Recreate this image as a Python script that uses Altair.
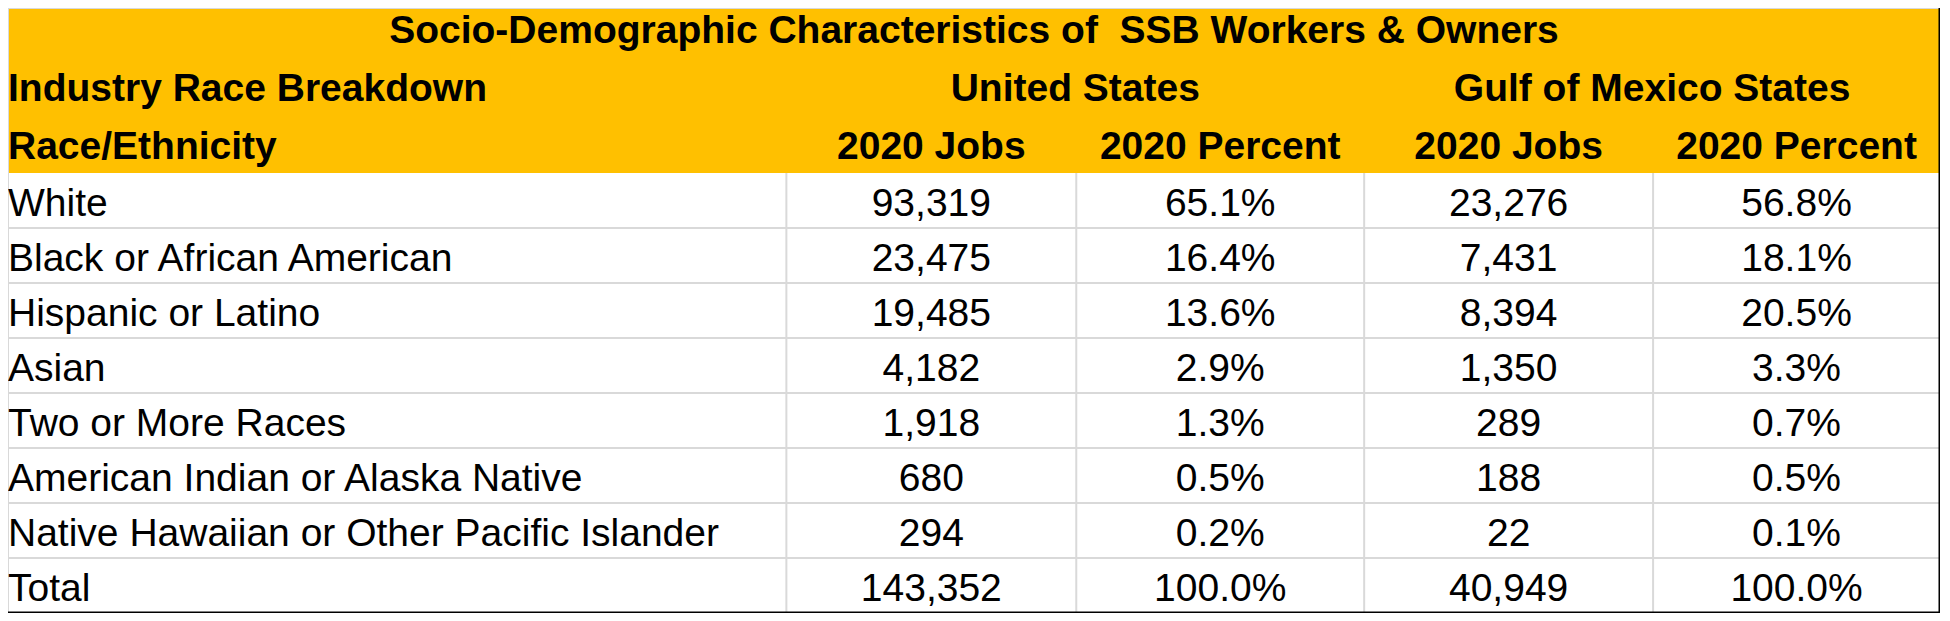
import altair as alt
import pandas as pd

# ---------------- data ----------------
title_text = "Socio-Demographic Characteristics of\u00a0 SSB Workers & Owners"
section_label = "Industry Race Breakdown"
row_header = "Race/Ethnicity"
regions = ["United States", "Gulf of Mexico States"]
measures = ["2020 Jobs", "2020 Percent"]

races = [
    "White",
    "Black or African American",
    "Hispanic or Latino",
    "Asian",
    "Two or More Races",
    "American Indian or Alaska Native",
    "Native Hawaiian or Other Pacific Islander",
    "Total",
]
us_jobs = [93319, 23475, 19485, 4182, 1918, 680, 294, 143352]
us_pct = [65.1, 16.4, 13.6, 2.9, 1.3, 0.5, 0.2, 100.0]
gulf_jobs = [23276, 7431, 8394, 1350, 289, 188, 22, 40949]
gulf_pct = [56.8, 18.1, 20.5, 3.3, 0.7, 0.5, 0.1, 100.0]

# ---------------- layout (table units) ----------------
TABLE_W = 1946
col_edges = [0, 784, 1076, 1366, 1657, 1946]
col_centers = [(col_edges[i] + col_edges[i + 1]) / 2 for i in range(1, 5)]
LEFT_PAD = 0
N_HEAD = 3
N_ROWS = N_HEAD + len(races)
HEAD_Y = [0.36, 1.42, 2.48]

FONT = "Liberation Sans"
FS = 39
YELLOW = "#FFC000"
GRID = "#D9D9D9"

X = alt.X("x:Q", scale=alt.Scale(domain=[0, TABLE_W], nice=False, zero=False), axis=None)
Y = alt.Y("y:Q", scale=alt.Scale(domain=[0, N_ROWS], nice=False, zero=False, reverse=True), axis=None)

# header background
header_bg = pd.DataFrame([{"x": 0, "x2": TABLE_W, "y": 0, "y2": N_HEAD}])
bg = alt.Chart(header_bg).mark_rect(color=YELLOW, strokeWidth=0).encode(
    x=X, x2="x2:Q", y=Y, y2="y2:Q"
)

# grid lines
grid_rows = []
for r in range(N_HEAD + 1, N_ROWS):
    grid_rows.append({"x": 0, "x2": TABLE_W, "y": r, "y2": r})
for e in col_edges[1:-1]:
    grid_rows.append({"x": e, "x2": e, "y": N_HEAD, "y2": N_ROWS})
grid_rows.append({"x": 0, "x2": TABLE_W, "y": 0, "y2": 0})
grid_rows.append({"x": 0, "x2": 0, "y": 0, "y2": N_ROWS})
grid = alt.Chart(pd.DataFrame(grid_rows)).mark_rule(color=GRID, strokeWidth=2).encode(
    x=X, x2="x2:Q", y=Y, y2="y2:Q"
)

border_rows = [
    {"x": 0, "x2": TABLE_W, "y": N_ROWS, "y2": N_ROWS},
    {"x": TABLE_W, "x2": TABLE_W, "y": 0, "y2": N_ROWS},
]
border = alt.Chart(pd.DataFrame(border_rows)).mark_rule(color="#000000", strokeWidth=3).encode(
    x=X, x2="x2:Q", y=Y, y2="y2:Q"
)

# header texts
head_center = [
    {"x": TABLE_W / 2, "y": HEAD_Y[0], "t": title_text},
    {"x": (col_edges[1] + col_edges[3]) / 2, "y": HEAD_Y[1], "t": regions[0]},
    {"x": (col_edges[3] + col_edges[5]) / 2, "y": HEAD_Y[1], "t": regions[1]},
]
for i, c in enumerate(col_centers):
    head_center.append({"x": c, "y": HEAD_Y[2], "t": measures[i % 2]})
head_left = [
    {"x": LEFT_PAD, "y": HEAD_Y[1], "t": section_label},
    {"x": LEFT_PAD, "y": HEAD_Y[2], "t": row_header},
]

txt_kw = dict(font=FONT, fontSize=FS, color="#000000", baseline="middle", dy=3)

h_center = alt.Chart(pd.DataFrame(head_center)).mark_text(
    align="center", fontWeight="bold", **txt_kw
).encode(x=X, y=Y, text="t:N")
h_left = alt.Chart(pd.DataFrame(head_left)).mark_text(
    align="left", fontWeight="bold", **txt_kw
).encode(x=X, y=Y, text="t:N")

# body texts
body_left = pd.DataFrame(
    {"x": [LEFT_PAD] * len(races), "y": [N_HEAD + i + 0.5 for i in range(len(races))], "t": races}
)
cells = []
for i in range(len(races)):
    yv = N_HEAD + i + 0.5
    cells.append({"x": col_centers[0], "y": yv, "t": f"{us_jobs[i]:,}"})
    cells.append({"x": col_centers[1], "y": yv, "t": f"{us_pct[i]:.1f}%"})
    cells.append({"x": col_centers[2], "y": yv, "t": f"{gulf_jobs[i]:,}"})
    cells.append({"x": col_centers[3], "y": yv, "t": f"{gulf_pct[i]:.1f}%"})

b_left = alt.Chart(body_left).mark_text(align="left", **txt_kw).encode(x=X, y=Y, text="t:N")
b_cells = alt.Chart(pd.DataFrame(cells)).mark_text(align="center", **txt_kw).encode(
    x=X, y=Y, text="t:N"
)

chart = (
    alt.layer(bg, grid, border, h_center, h_left, b_left, b_cells)
    .properties(width=1932, height=605, padding=0, autosize=alt.AutoSizeParams(type="none"))
    .configure_view(stroke=None)
    .configure(background="#FFFFFF")
)

chart.save("out.html", embed_options={"renderer": "svg", "actions": False})
